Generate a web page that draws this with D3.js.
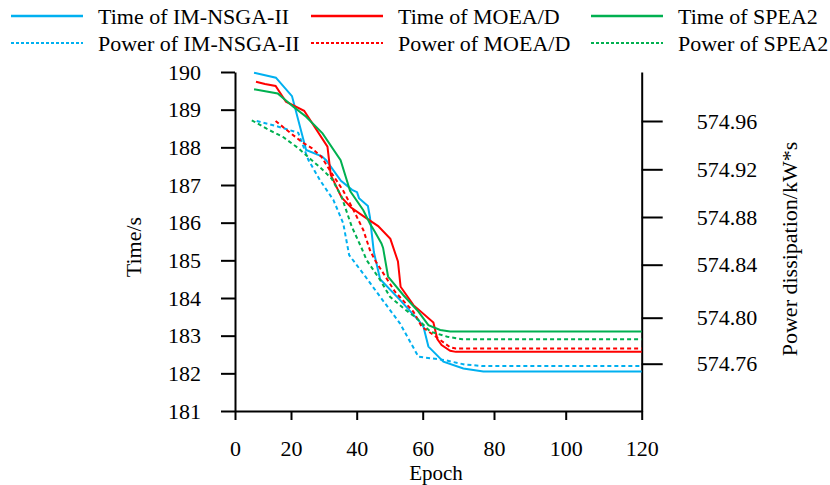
<!DOCTYPE html>
<html>
<head>
<meta charset="utf-8">
<script src="https://cdn.jsdelivr.net/npm/d3@7"></script>
<style>
  body { margin: 0; background: #fff; }
  svg { display: block; }
  .axis path, .axis line { stroke: #000; stroke-width: 2; }
</style>
</head>
<body>
<div id="chart"></div>
<script>
// Epoch ticks and right-axis ticks
const epochTicks = [0, 20, 40, 60, 80, 100, 120];
const timeTicks = [181, 182, 183, 184, 185, 186, 187, 188, 189, 190];
const powerTicks = [574.76, 574.80, 574.84, 574.88, 574.92, 574.96];

// Time of IM-NSGA-II
const timeImEpoch = [6.8, 14.6, 20.3, 24.6, 29.4, 30.7, 35.2, 38.6, 40.1, 40.7, 43.4, 44.0, 45.2, 47.1, 53.1, 59.2, 60.2, 61.6, 65.8, 71.4, 77.0, 120];
const timeImValue = [189.98, 189.85, 189.36, 187.93, 187.76, 187.66, 187.11, 186.87, 186.81, 186.65, 186.44, 186.15, 185.22, 184.5, 183.95, 183.36, 183.24, 182.71, 182.31, 182.13, 182.05, 182.05];

// Time of MOEA/D
const timeMoeaEpoch = [7.5, 10.7, 14.5, 18.2, 24.0, 31.1, 32.1, 35.4, 38.3, 41.9, 46.5, 50.2, 52.5, 53.3, 57.2, 63.0, 64.1, 65.3, 67.7, 69.3, 120];
const timeMoeaValue = [189.74, 189.68, 189.63, 189.21, 188.97, 188.02, 187.27, 186.67, 186.40, 186.18, 185.91, 185.57, 184.97, 184.30, 183.81, 183.35, 182.91, 182.75, 182.60, 182.57, 182.57];

// Time of SPEA2
const timeSpeaEpoch = [6.8, 15.25, 20.7, 24.6, 29.6, 35.1, 38.0, 42.0, 44.0, 45.5, 47.5, 48.0, 49.5, 54.1, 58.7, 61.6, 64.9, 67.7, 120];
const timeSpeaValue = [189.54, 189.43, 189.08, 188.81, 188.37, 187.66, 186.84, 186.33, 185.98, 185.76, 185.45, 185.33, 184.57, 184.08, 183.64, 183.28, 183.15, 183.11, 183.11];

// Power of IM-NSGA-II
const powerImEpoch = [7.75, 15.5, 22.2, 25.3, 28.8, 32.9, 35.9, 37.7, 42.5, 47.1, 53.1, 58.7, 66.1, 71.7, 77.0, 120];
const powerImValue = [574.960, 574.9553, 574.9503, 574.9277, 574.911, 574.8943, 574.8747, 574.8481, 574.8315, 574.8158, 574.7951, 574.7661, 574.7632, 574.7593, 574.758, 574.758];

// Power of MOEA/D
const powerMoeaEpoch = [14.5, 18.5, 23.3, 26.3, 29.3, 32.4, 35.9, 39.0, 42.0, 44.0, 45.5, 47.1, 51.6, 57.2, 59.7, 63.0, 67.7, 69.3, 120];
const powerMoeaValue = [574.960, 574.9525, 574.9426, 574.9376, 574.9302, 574.9166, 574.902, 574.8859, 574.8691, 574.8523, 574.8439, 574.8373, 574.8196, 574.8045, 574.7922, 574.785, 574.7743, 574.7732, 574.7732];

// Power of SPEA2
const powerSpeaEpoch = [6.0, 11.3, 17.2, 22.2, 25.8, 29.3, 32.4, 35.4, 38.5, 41.5, 43.0, 47.1, 50.1, 54.2, 58.2, 62.2, 66.9, 71.1, 120];
const powerSpeaValue = [574.9606, 574.9536, 574.9467, 574.9376, 574.9288, 574.9205, 574.9121, 574.897, 574.8719, 574.8538, 574.8439, 574.8285, 574.8158, 574.8071, 574.7995, 574.7878, 574.7835, 574.7812, 574.7812];

const seriesNames = ["Time of IM-NSGA-II", "Time of MOEA/D", "Time of SPEA2",
  "Power of IM-NSGA-II", "Power of MOEA/D", "Power of SPEA2"];

const width = 830;
const height = 485;
const font = "'Liberation Serif', 'Times New Roman', serif";
const fontSize = 22;
const blue = "#00b0f0", red = "#ff0000", green = "#00b050";

const series = [
  { name: seriesNames[0], epoch: timeImEpoch, value: timeImValue, color: blue, axis: "left" },
  { name: seriesNames[1], epoch: timeMoeaEpoch, value: timeMoeaValue, color: red, axis: "left" },
  { name: seriesNames[2], epoch: timeSpeaEpoch, value: timeSpeaValue, color: green, axis: "left" },
  { name: seriesNames[3], epoch: powerImEpoch, value: powerImValue, color: blue, axis: "right" },
  { name: seriesNames[4], epoch: powerMoeaEpoch, value: powerMoeaValue, color: red, axis: "right" },
  { name: seriesNames[5], epoch: powerSpeaEpoch, value: powerSpeaValue, color: green, axis: "right" }
];

// the source figure spaces its ticks unevenly, so piecewise scales
const x = d3.scaleLinear()
  .domain(epochTicks)
  .range([235, 291, 356.7, 422.7, 494, 565.7, 641.7]);

const yLeft = d3.scaleLinear().domain([181, 190]).range([411, 72]);

const yRight = d3.scaleLinear()
  .domain([574.72, ...powerTicks, 575.00])
  .range([411, 363.7, 317.7, 264.7, 217, 169.3, 121, 72]);

const svg = d3.select("#chart")
  .append("svg")
  .attr("width", width)
  .attr("height", height)
  .attr("font-family", font)
  .attr("font-size", fontSize);

const xAxisG = svg.append("g")
  .attr("class", "axis")
  .attr("transform", `translate(0,${yLeft(181)})`)
  .call(d3.axisBottom(x).tickValues(epochTicks).tickSize(9).tickSizeOuter(0).tickPadding(20));

const yLeftG = svg.append("g")
  .attr("class", "axis")
  .attr("transform", `translate(${x(0)},0)`)
  .call(d3.axisLeft(yLeft).tickValues(timeTicks).tickSize(14).tickSizeOuter(0).tickPadding(20));

const yRightG = svg.append("g")
  .attr("class", "axis")
  .attr("transform", `translate(${x(120)},0)`)
  .call(d3.axisRight(yRight).tickValues(powerTicks).tickSize(21).tickSizeOuter(0)
    .tickPadding(34).tickFormat(d3.format(".2f")));

[xAxisG, yLeftG, yRightG].forEach((g) => {
  g.attr("font-family", font).attr("font-size", fontSize);
  g.selectAll("text").attr("fill", "#000");
});

svg.append("text")
  .attr("x", 436)
  .attr("y", 479.5)
  .attr("text-anchor", "middle")
  .attr("font-size", 21)
  .text("Epoch");

svg.append("text")
  .attr("transform", "translate(141,247) rotate(-90)")
  .attr("text-anchor", "middle")
  .text("Time/s");

svg.append("text")
  .attr("transform", "translate(797,249) rotate(-90)")
  .attr("text-anchor", "middle")
  .text("Power dissipation/kW*s");

const lineG = svg.append("g").attr("class", "lines");

series.forEach((s) => {
  const yScale = s.axis === "left" ? yLeft : yRight;
  const line = d3.line()
    .x((d, i) => x(s.epoch[i]))
    .y((d) => yScale(d));
  lineG.append("path")
    .attr("d", line(s.value))
    .attr("fill", "none")
    .attr("stroke", s.color)
    .attr("stroke-width", 2)
    .attr("stroke-dasharray", s.axis === "right" ? "4,3" : null);
});

// legend: two rows of three
const legendCols = [11, 311, 591];
const legendRows = [16, 43];

const legendItem = svg.append("g")
  .attr("class", "legend")
  .selectAll("g")
  .data(series)
  .join("g")
  .attr("transform", (d, i) => `translate(${legendCols[i % 3]},${legendRows[Math.floor(i / 3)]})`);

legendItem.append("line")
  .attr("x1", 0)
  .attr("x2", 72)
  .attr("stroke", (d) => d.color)
  .attr("stroke-width", (d) => (d.axis === "right" ? 2 : 2.5))
  .attr("stroke-dasharray", (d) => (d.axis === "right" ? "3,2" : null));

legendItem.append("text")
  .attr("x", 87)
  .attr("y", 8)
  .text((d) => d.name);
</script>
</body>
</html>
